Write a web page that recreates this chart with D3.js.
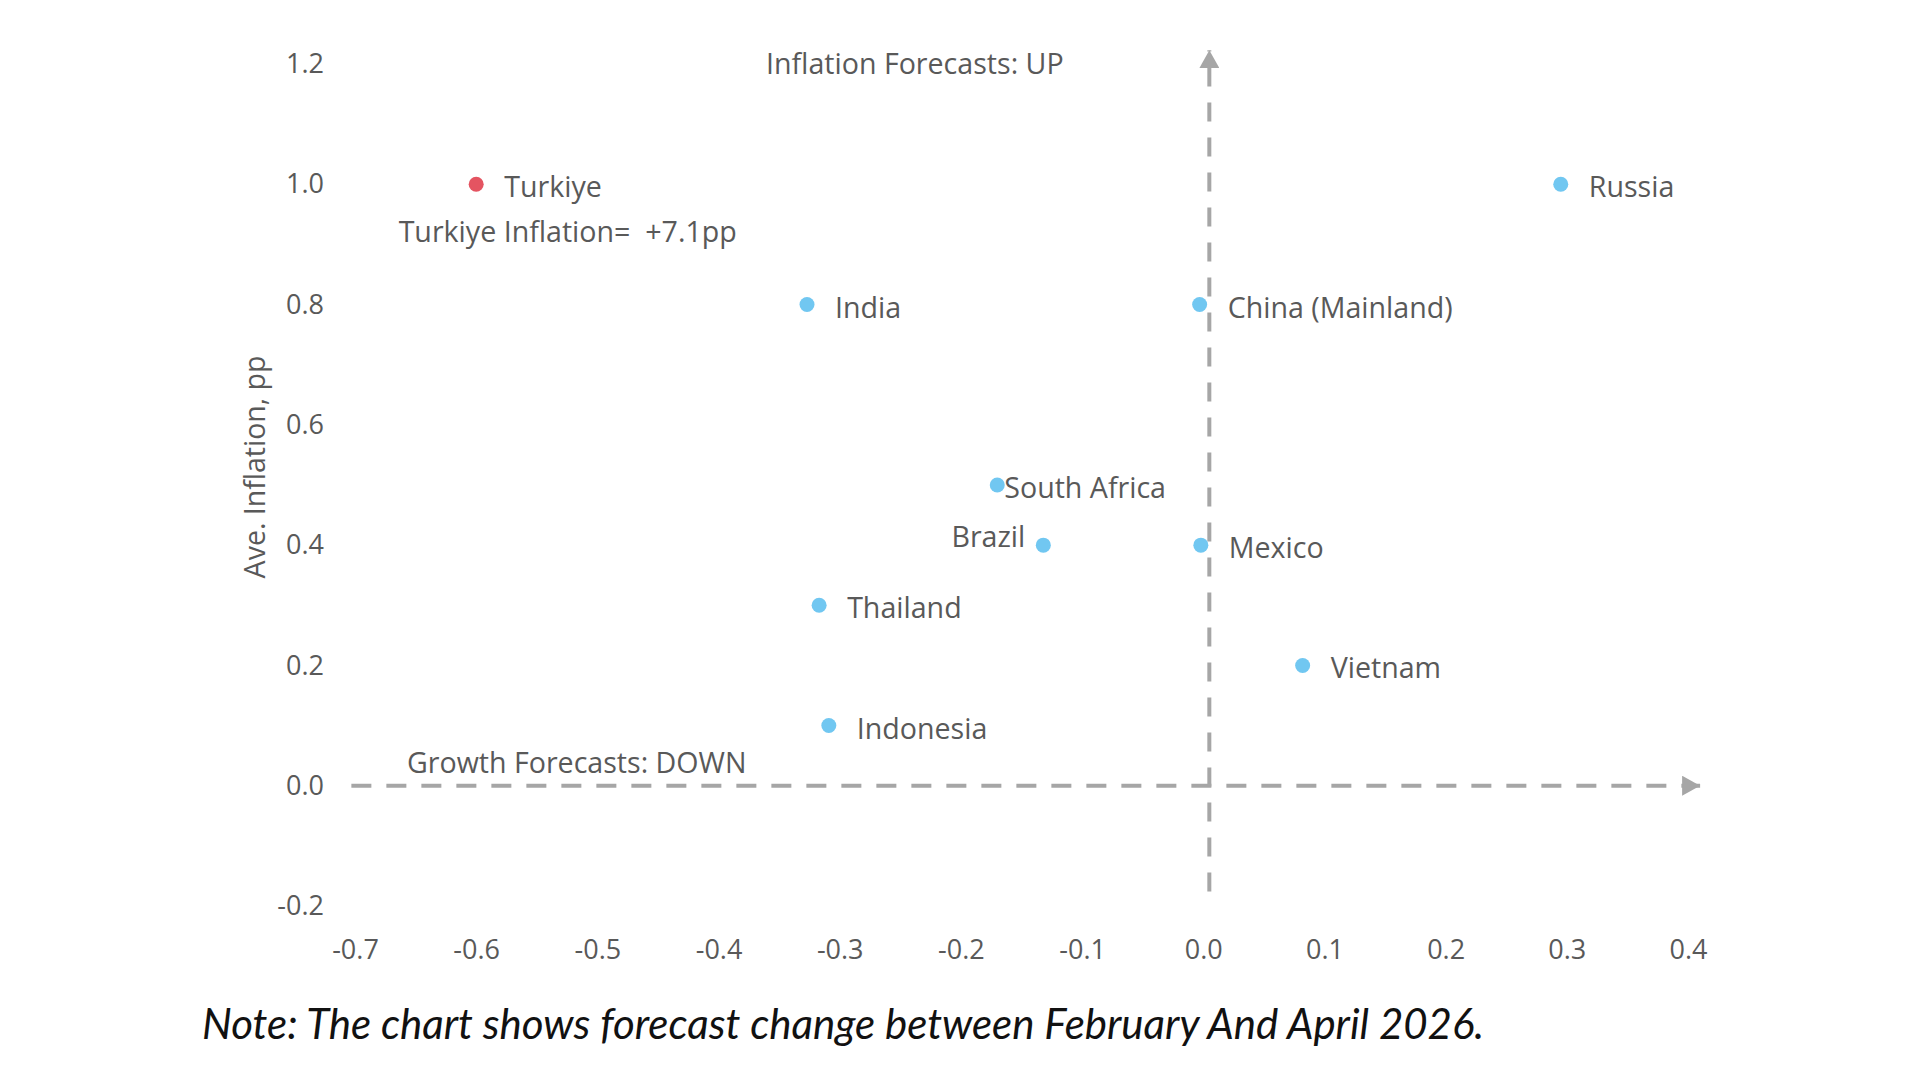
<!DOCTYPE html>
<html>
<head>
<meta charset="utf-8">
<script src="https://cdn.jsdelivr.net/npm/d3@7"></script>
<style>
  body { margin: 0; background: #fff; }
  svg text { font-family: "Open Sans", sans-serif; fill: #595959; }
</style>
</head>
<body>
<svg id="chart"></svg>
<script>
// data
const countries = ["Turkiye", "Russia", "India", "China (Mainland)", "South Africa",
                   "Brazil", "Mexico", "Thailand", "Vietnam", "Indonesia"];
const growthChange = [-0.6, 0.295, -0.327, -0.003, -0.17, -0.132, -0.002, -0.317, 0.082, -0.309];
const inflationChange = [1.0, 1.0, 0.8, 0.8, 0.5, 0.4, 0.4, 0.3, 0.2, 0.1];
const highlighted = ["Turkiye"];

const xTicks = [-0.7, -0.6, -0.5, -0.4, -0.3, -0.2, -0.1, 0.0, 0.1, 0.2, 0.3, 0.4];
const yTicks = [-0.2, 0.0, 0.2, 0.4, 0.6, 0.8, 1.0, 1.2];

const yTitle = "Ave. Inflation, pp";
const upText = "Inflation Forecasts: UP";
const downText = "Growth Forecasts: DOWN";
const turkiyeNote = "Turkiye Inflation=  +7.1pp";
const footNote = "Note: The chart shows forecast change between February And April 2026.";

const width = 1920, height = 1080;

let xScale = d3.scaleLinear().domain([-0.7, 0.4]).range([355, 1688]);
let yScale = d3.scaleLinear().domain([-0.2, 1.2]).range([906, 64]);

const points = countries.map((c, i) => ({name: c, x: growthChange[i], y: inflationChange[i]}));

let svg = d3.select("#chart").attr("width", width).attr("height", height);

// arrow heads for the guide lines
svg.append("defs").append("marker")
    .attr("id", "arrow")
    .attr("markerUnits", "userSpaceOnUse")
    .attr("markerWidth", 20).attr("markerHeight", 20)
    .attr("refX", 18).attr("refY", 10)
    .attr("orient", "auto")
    .append("path")
    .attr("d", "M0,0 L18,10 L0,20 Z")
    .attr("fill", "#a6a6a6");

// axes (labels only)
const fmt = d => d.toFixed(1);
let yAxis = svg.append("g")
    .attr("transform", "translate(330,0)")
    .call(d3.axisLeft(yScale).tickValues(yTicks).tickFormat(fmt).tickSize(0).tickPadding(6));
let xAxis = svg.append("g")
    .attr("transform", "translate(0,950)")
    .call(d3.axisBottom(xScale).tickValues(xTicks).tickFormat(fmt).tickSize(0).tickPadding(0));
[yAxis, xAxis].forEach(a => {
    a.select(".domain").remove();
    a.selectAll("text")
        .attr("fill", "#595959")
        .style("font-family", "'Open Sans', sans-serif")
        .style("font-size", "27px");
});
xAxis.selectAll("text").attr("dy", "0.35em");

// dashed zero lines
svg.append("line")
    .attr("x1", xScale(-0.703)).attr("x2", xScale(0.41))
    .attr("y1", yScale(0)).attr("y2", yScale(0))
    .attr("stroke", "#a6a6a6").attr("stroke-width", 4)
    .attr("stroke-dasharray", "20,15")
    .attr("marker-end", "url(#arrow)");
svg.append("line")
    .attr("x1", xScale(0.005)).attr("x2", xScale(0.005))
    .attr("y1", yScale(-0.176)).attr("y2", yScale(1.223))
    .attr("stroke", "#a6a6a6").attr("stroke-width", 4)
    .attr("stroke-dasharray", "19,16")
    .attr("marker-end", "url(#arrow)");

// points
svg.selectAll(".dot")
    .data(points)
    .enter()
    .append("circle")
    .attr("class", "dot")
    .attr("cx", d => xScale(d.x))
    .attr("cy", d => yScale(d.y))
    .attr("r", 7.5)
    .attr("fill", d => highlighted.includes(d.name) ? "#e45461" : "#71c7f1");

// point labels: most sit right of the dot
function labelX(d) {
    if (d.name === "Brazil") return xScale(d.x) - 18;
    if (d.name === "South Africa") return xScale(d.x) + 7;
    return xScale(d.x) + 28;
}
svg.selectAll(".lbl")
    .data(points)
    .enter()
    .append("text")
    .attr("class", "lbl")
    .attr("x", labelX)
    .attr("y", d => yScale(d.y) + (d.name === "Brazil" ? -8 : 3))
    .attr("dy", "0.35em")
    .attr("text-anchor", d => d.name === "Brazil" ? "end" : "start")
    .style("font-size", "28.6px")
    .text(d => d.name);

// annotations
svg.append("text")
    .attr("x", xScale(-0.238)).attr("y", yScale(1.2)).attr("dy", "0.35em")
    .attr("text-anchor", "middle").style("font-size", "28.6px")
    .text(upText);
svg.append("text")
    .attr("x", xScale(-0.517)).attr("y", yScale(0.038)).attr("dy", "0.35em")
    .attr("text-anchor", "middle").style("font-size", "28.6px")
    .text(downText);
svg.append("text")
    .attr("x", xScale(-0.664)).attr("y", yScale(0.92)).attr("dy", "0.35em")
    .style("font-size", "28.6px").style("white-space", "pre")
    .text(turkiyeNote);

// y title
svg.append("text")
    .attr("transform", `translate(255,${yScale(0.53)}) rotate(-90)`)
    .attr("dy", "0.35em")
    .attr("text-anchor", "middle")
    .style("font-size", "28.5px")
    .text(yTitle);

// footnote
svg.append("text")
    .attr("x", 202).attr("y", 1024).attr("dy", "0.35em")
    .style("font-family", "Lato, sans-serif")
    .style("font-style", "italic")
    .style("font-size", "42px")
    .style("fill", "#111")
    .text(footNote);
</script>
</body>
</html>
